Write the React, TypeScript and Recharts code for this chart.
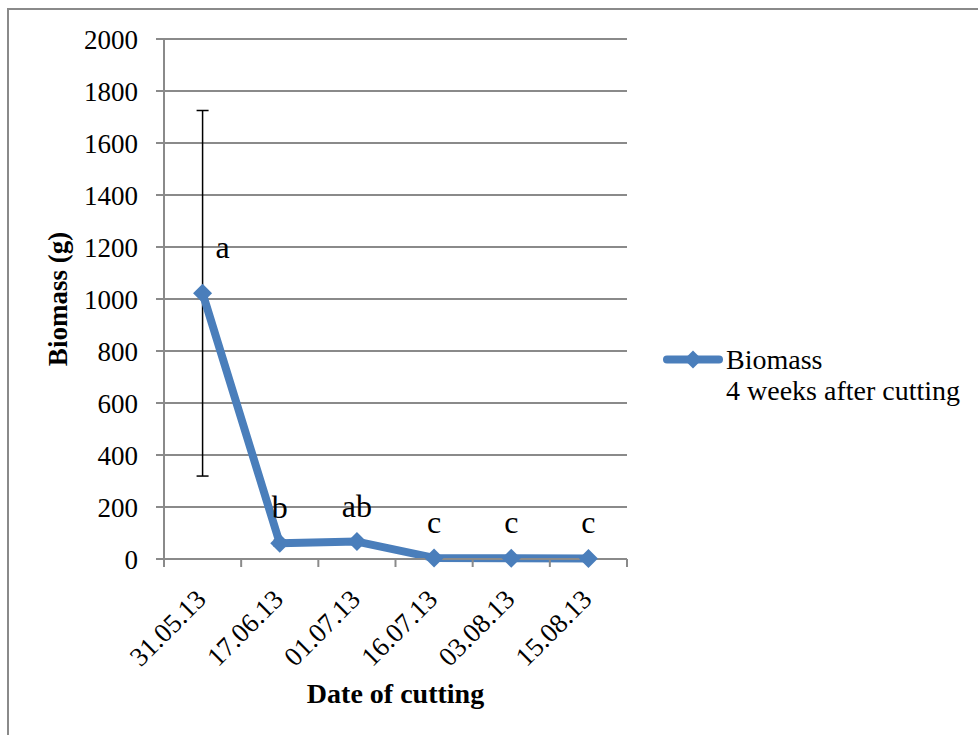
import {
  LineChart,
  Line,
  XAxis,
  YAxis,
  CartesianGrid,
  ErrorBar,
  LabelList,
  Label,
  Legend,
} from 'recharts';

// cutting dates (categories), mean biomass, error (±) and significance letters
const dates = ['31.05.13', '17.06.13', '01.07.13', '16.07.13', '03.08.13', '15.08.13'];
const biomass = [1022, 61, 67, 4, 3, 2];
const errors = [703, 12, 10, 3, 2, 1];
const letters = ['a', 'b', 'ab', 'c', 'c', 'c'];
const yTicks = [0, 200, 400, 600, 800, 1000, 1200, 1400, 1600, 1800, 2000];

const FONT = '"Liberation Serif", "Times New Roman", serif';
const BLUE = '#4A7EBB';
const GREY = '#8a8a8a';

// one point per category, centred in its band (band i spans i..i+1)
const data = dates.map((d, i) => ({
  pos: i + 0.5,
  date: d,
  biomass: biomass[i],
  err: errors[i],
  sig: letters[i],
}));

// integer ticks = category boundaries (tick marks), half ticks = date labels
const xTicks = Array.from({ length: dates.length * 2 + 1 }, (_, i) => i / 2);

function DateTick(props: any) {
  const { x, y, payload } = props;
  const v = payload.value;
  if (Number.isInteger(v)) {
    return <line x1={x} y1={y - 8} x2={x} y2={y} stroke={GREY} strokeWidth={2} />;
  }
  const tx = x + 5;
  const ty = y + 34;
  return (
    <text
      x={tx}
      y={ty}
      transform={`rotate(-45 ${tx} ${ty})`}
      textAnchor="end"
      fontFamily={FONT}
      fontSize={27}
      fill="#000"
    >
      {dates[Math.floor(v)]}
    </text>
  );
}

function Diamond(props: any) {
  const { cx, cy } = props;
  if (cx == null || cy == null) return null;
  const r = 9.5;
  return (
    <polygon
      points={`${cx},${cy - r} ${cx + r},${cy} ${cx},${cy + r} ${cx - r},${cy}`}
      fill={BLUE}
    />
  );
}

function SigLabel(props: any) {
  const { x, y, value, index } = props;
  // first letter sits to the right of its error bar
  const dx = index === 0 ? 20 : 0;
  const dy = index === 0 ? -35 : -25;
  return (
    <text x={x + dx} y={y + dy} textAnchor="middle" fontFamily={FONT} fontSize={32} fill="#000">
      {value}
    </text>
  );
}

function LegendBox() {
  return (
    <div style={{ display: 'flex', alignItems: 'flex-start', fontFamily: FONT, fontSize: 28, lineHeight: '31px', color: '#000' }}>
      <svg width={62} height={31} style={{ flex: 'none' }}>
        <line x1={4} y1={15.5} x2={56} y2={15.5} stroke={BLUE} strokeWidth={8} strokeLinecap="round" />
        <polygon points="30,6.5 39,15.5 30,24.5 21,15.5" fill={BLUE} />
      </svg>
      <div style={{ marginLeft: 1, whiteSpace: 'nowrap' }}>
        Biomass
        <br />
        4 weeks after cutting
      </div>
    </div>
  );
}

export default function App() {
  return (
    <div style={{ position: 'fixed', left: 0, top: 0, width: 978, height: 735, overflow: 'hidden', background: '#fff' }}>
      <div
        style={{
          position: 'absolute',
          left: 7,
          top: 8,
          width: 1000,
          height: 800,
          borderLeft: `2px solid ${GREY}`,
          borderTop: `2px solid ${GREY}`,
        }}
      />
      <div style={{ position: 'absolute', left: 0, top: 0 }}>
        <LineChart width={978} height={735} data={data} margin={{ top: 39, right: 351, left: 0, bottom: 0 }}>
          <CartesianGrid vertical={false} stroke={GREY} strokeWidth={2} />
          <XAxis
            dataKey="pos"
            type="number"
            domain={[0, dates.length]}
            ticks={xTicks}
            interval={0}
            height={176}
            stroke={GREY}
            strokeWidth={2}
            tickLine={false}
            tickSize={8}
            tickMargin={0}
            tick={<DateTick />}
          >
            <Label
              content={(p: any) => {
                const vb = p.viewBox;
                return (
                  <text
                    x={vb.x + vb.width / 2}
                    y={vb.y + 134}
                    textAnchor="middle"
                    dominantBaseline="central"
                    fontFamily={FONT}
                    fontSize={28}
                    fontWeight="bold"
                    fill="#000"
                  >
                    Date of cutting
                  </text>
                );
              }}
            />
          </XAxis>
          <YAxis
            domain={[0, 2000]}
            ticks={yTicks}
            interval={0}
            width={164}
            stroke={GREY}
            strokeWidth={2}
            tickSize={8}
            tickMargin={18}
            tick={{ fill: '#000', fontFamily: FONT, fontSize: 27 }}
          >
            <Label
              content={(p: any) => {
                const vb = p.viewBox;
                const cx = vb.x + 58;
                const cy = vb.y + vb.height / 2;
                return (
                  <text
                    x={cx}
                    y={cy}
                    transform={`rotate(-90 ${cx} ${cy})`}
                    textAnchor="middle"
                    dominantBaseline="central"
                    fontFamily={FONT}
                    fontSize={27}
                    fontWeight="bold"
                    fill="#000"
                  >
                    Biomass (g)
                  </text>
                );
              }}
            />
          </YAxis>
          <Legend
            layout="vertical"
            align="center"
            verticalAlign="middle"
            wrapperStyle={{ left: 663, top: 344, width: 320 }}
            content={<LegendBox />}
          />
          <Line
            dataKey="biomass"
            stroke={BLUE}
            strokeWidth={8}
            strokeLinejoin="round"
            dot={<Diamond />}
            activeDot={false}
            isAnimationActive={false}
          >
            <ErrorBar dataKey="err" width={6} stroke="#000" strokeWidth={1.5} direction="y" />
            <LabelList dataKey="sig" content={<SigLabel />} />
          </Line>
        </LineChart>
      </div>
    </div>
  );
}
